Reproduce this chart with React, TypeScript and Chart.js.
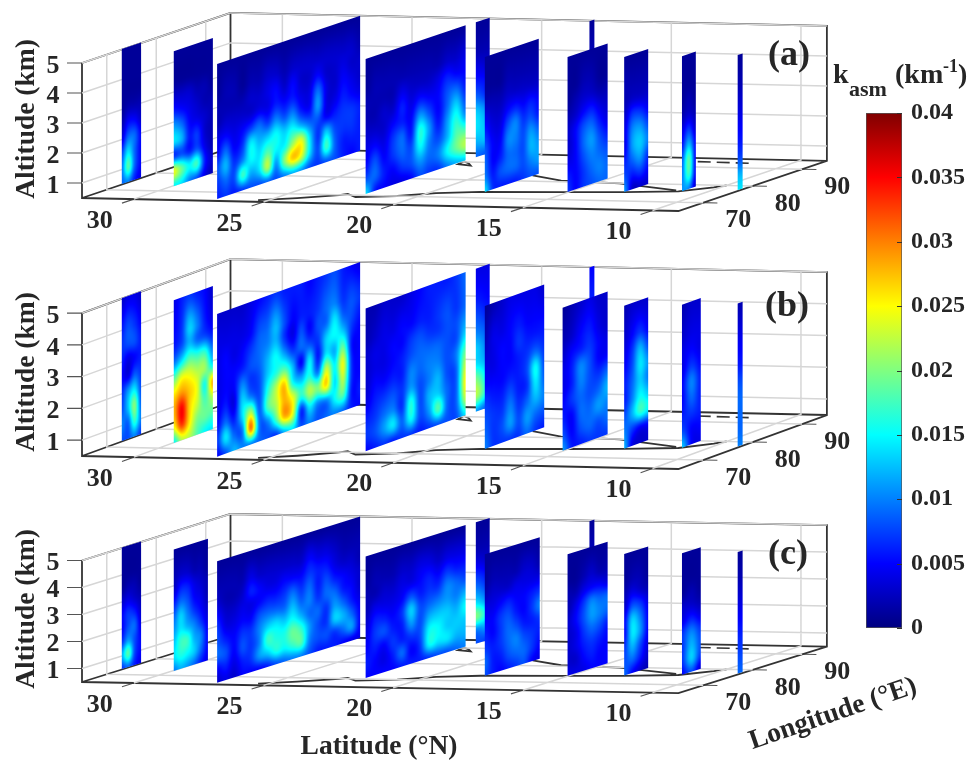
import React, { useEffect, useRef } from "react";
import { Chart, registerables } from "chart.js";

Chart.register(...registerables);

// ---------- axis values ----------
const latTicks = [30, 25, 20, 15, 10];
const lonTicks = [70, 80, 90];
const altTicks = [1, 2, 3, 4, 5];
const colorTicks = [0, 0.005, 0.01, 0.015, 0.02, 0.025, 0.03, 0.035, 0.04];
const latRange = [32, 9];
const lonRange = [65, 95];
const altRange = [0.5, 5];

// altitude (km) of each row in the slice tables, bottom to top
const zLevels = [0.5, 1, 1.5, 2, 2.5, 3, 3.5, 4, 5];

// latitude of each slice, in drawing order (far ones first)
const sliceLats = [32.05, 29.95, 27, 22.15, 22.1, 18.1, 18.05, 15.05, 13, 11, 9.1];
const lonStartsA = [73.3, 72.8, 66.1, 70.7, 92.7, 94.7, 73.3, 74.3, 75, 76.2, 77.5];
const lonEndsA = [77.2, 80.7, 95, 90.9, 95.5, 95.7, 84.2, 82.4, 79.85, 79, 78.5];
const lonStartsB = [73.3, 72.8, 66.1, 70.7, 92.7, 94.7, 73.3, 73.3, 75, 76.2, 77.5];
const lonEndsB = [77.2, 80.7, 95, 90.9, 95.5, 95.7, 85.3, 82.4, 79.85, 80, 78.5];
const lonStartsC = [73.3, 72.8, 66.1, 70.7, 92.7, 94.7, 73.3, 74.3, 75, 76.2, 77.5];
const lonEndsC = [77.2, 79.7, 95, 90.9, 95.5, 95.7, 84.4, 82.4, 79.85, 80, 78.5];

// k_asm x 1000 (km^-1). One row per zLevel, columns west to east.
const a32 = [[9,10,6,4],[10,18,9,5],[8,14,9,5],[4,9,9,5],[2,5,5,3],[1,2,2,2],[1,1,1,1],[1,1,1,1],[1,1,1,1]];
const a30 = [[15,14,10,8,4,2],[24,19,15,17,6,3],[7,8,6,8,4,2],[14,12,6,7,3,2],[11,9,5,4,3,2],[6,5,4,3,2,2],[3,3,3,2,2,1],[1,1,1,1,1,1],[1,1,1,1,1,1]];
const a27 = [
  [6,7,6,7,8,8,9,8,10,12,11,8,7,8,8,6,5,6],
  [7,9,8,17,12,14,22,11,20,27,24,14,8,17,9,6,6,6],
  [8,12,7,10,15,14,18,15,15,21,24,14,7,13,8,7,7,6],
  [5,9,5,7,14,12,13,15,13,15,12,9,8,5,6,7,7,6],
  [4,5,4,5,7,9,7,10,8,10,6,5,11,4,4,6,5,4],
  [2,3,3,3,3,4,4,6,5,6,4,4,9,4,3,5,4,3],
  [2,2,2,2,3,3,4,5,3,5,3,3,5,3,3,4,3,3],
  [1,2,2,1,2,2,3,3,2,3,3,3,3,3,3,3,3,2],
  [1,1,1,1,1,1,1,1,1,1,1,1,1,1,1,1,1,1],
];
const a22 = [
  [14,6,5,4,4,5,8,7,7,10,12,13],[8,9,6,5,7,8,11,9,10,15,19,22],[5,8,5,7,9,8,15,10,8,12,18,18],
  [4,5,4,7,9,6,16,11,6,11,16,11],[3,3,3,5,6,5,11,8,5,9,13,8],[2,2,3,3,6,4,6,5,5,8,9,6],
  [2,2,2,2,4,3,3,3,4,6,5,5],[1,2,2,2,2,2,2,2,2,3,3,4],[1,1,1,1,1,1,1,1,1,1,1,1],
];
const a22e = [[9,8],[12,13],[14,12],[13,10],[9,6],[6,5],[4,3],[2,2],[1,1]];
const a18e = [[2],[2],[2],[2],[2],[2],[2],[2],[1]];
const a18 = [[14,7,6,6,6,7,8,8],[10,6,8,9,9,8,10,11],[9,5,6,9,9,8,12,11],[8,5,5,10,10,8,11,9],[6,4,4,8,10,7,8,6],[4,3,3,5,6,5,6,5],[2,2,2,3,3,3,3,3],[1,1,1,2,2,2,2,2],[1,1,1,1,1,1,1,1]];
const a15 = [[7,5,7,8,9,9],[6,5,7,9,10,9],[4,5,8,10,9,8],[3,5,9,11,8,6],[3,5,8,9,6,4],[2,3,5,6,4,3],[1,2,3,3,2,2],[1,1,2,2,1,1],[1,1,1,1,1,1]];
const a13 = [[11,3,3,3],[8,6,7,5],[6,9,11,7],[4,11,13,10],[4,10,11,8],[3,7,7,5],[2,3,3,3],[2,2,2,2],[1,1,1,1]];
const a11 = [[11,10,3],[10,17,5],[9,18,5],[6,12,5],[4,7,3],[2,3,2],[1,2,1],[1,1,1],[1,1,1]];
const a9 = [[14],[12],[8],[6],[5],[4],[3],[2],[1]];

const b32 = [[8,8,10,7],[10,9,17,10],[8,13,20,9],[7,11,14,8],[5,4,8,7],[6,4,5,6],[7,8,8,6],[6,8,7,5],[3,4,4,3]];
const b30 = [[15,22,22,18,15,14],[25,33,26,20,19,18],[28,35,27,23,18,22],[26,29,27,24,16,28],[19,24,24,22,21,15],[10,14,18,17,17,10],[6,8,12,9,8,6],[5,7,13,10,6,4],[4,6,7,6,5,3]];
const b27 = [
  [5,8,12,10,10,9,8,7,12,14,8,10,8,9,10,9,6,5],
  [7,14,9,10,30,10,10,18,28,24,7,14,10,10,15,18,6,6],
  [5,9,6,14,22,9,18,22,28,24,17,22,20,26,14,22,7,5],
  [4,6,4,13,10,8,16,22,27,15,12,16,10,23,15,24,7,5],
  [4,5,5,10,7,8,13,16,18,12,5,14,6,14,12,19,6,5],
  [4,5,5,6,8,9,12,15,11,7,9,8,7,13,15,13,7,5],
  [4,5,4,5,7,9,10,12,7,4,8,5,8,9,14,9,8,6],
  [4,4,4,4,5,8,9,12,8,5,6,6,7,9,10,7,8,7],
  [3,3,3,3,4,5,6,7,6,6,6,5,6,7,8,6,5,4],
];
const b22 = [
  [5,6,7,6,7,7,6,7,8,8,8,14],[7,8,11,14,9,15,8,11,18,9,9,22],[6,7,9,10,7,16,8,12,13,9,9,25],
  [4,6,7,8,7,11,8,10,12,8,9,23],[3,5,5,6,6,10,9,10,10,8,10,19],[3,4,4,5,6,8,9,9,9,8,8,14],
  [3,4,4,5,5,7,8,7,7,8,8,11],[2,3,4,4,5,5,6,6,7,8,7,9],[2,2,3,3,3,4,5,6,6,6,7,9],
];
const b22e = [[11,8],[22,14],[20,13],[14,11],[13,9],[10,8],[8,6],[6,5],[4,4]];
const b18e = [[5],[5],[5],[5],[5],[5],[5],[6],[5]];
const b18 = [[10,7,7,7,7,9,7,6],[9,7,8,11,8,11,9,8],[8,7,7,10,7,9,12,10],[7,6,6,8,6,7,14,9],[5,5,5,6,6,8,15,8],[4,4,5,5,6,7,9,7],[3,4,5,5,7,6,6,6],[2,4,4,5,6,5,5,5],[1,2,3,4,4,4,4,3]];
const b15 = [[11,6,6,7,7,7],[8,5,8,9,8,9],[6,5,9,9,11,10],[5,7,9,8,9,12],[4,6,10,8,7,9],[4,6,10,8,5,5],[3,5,6,7,5,4],[2,3,5,6,4,3],[1,2,3,4,3,3]];
const b13 = [[12,4,3,3],[10,7,5,5],[8,12,17,15],[6,10,15,13],[6,9,13,10],[5,8,14,11],[4,7,12,8],[3,5,7,5],[2,3,3,3]];
const b11 = [[13,5,4],[8,5,5],[6,7,6],[5,9,6],[5,10,6],[4,7,5],[4,5,4],[3,4,4],[2,3,3]];
const b9 = [[10],[9],[9],[9],[8],[6],[5],[4],[2]];

const c32 = [[7,9,6,4],[12,18,8,5],[7,11,8,5],[5,8,9,4],[5,7,6,3],[3,4,3,2],[1,2,2,1],[1,1,1,1],[1,1,1,1]];
const c30 = [[10,12,11,9,6,4],[14,16,15,13,9,5],[13,17,17,12,10,5],[11,14,12,10,7,4],[9,13,10,7,5,3],[6,9,8,5,4,2],[3,6,6,4,3,2],[2,3,3,2,2,1],[1,1,1,1,1,1]];
const c27 = [
  [3,4,3,5,5,5,6,8,9,10,10,8,6,6,6,5,4,4],
  [5,6,4,6,7,11,13,16,15,17,18,10,8,8,7,9,11,5],
  [9,8,5,8,7,10,17,16,16,19,17,11,8,7,13,12,9,5],
  [8,6,5,7,7,10,13,14,13,15,12,9,9,7,11,9,6,4],
  [7,4,4,5,5,8,9,9,9,12,9,10,7,9,9,6,5,3],
  [5,3,3,4,4,5,6,6,7,9,7,9,6,8,6,5,4,3],
  [3,2,2,3,6,5,4,4,5,5,5,7,6,6,4,3,3,2],
  [2,2,2,2,4,3,3,3,3,3,3,5,4,4,3,2,2,2],
  [1,1,1,1,1,1,1,1,1,1,1,1,1,1,1,1,1,1],
];
const c22 = [
  [5,5,5,5,6,6,6,7,8,8,9,10],[6,5,4,6,9,5,7,15,14,14,12,12],[5,6,5,7,6,7,8,15,15,13,13,13],
  [4,7,8,6,6,11,8,12,13,13,12,15],[3,6,6,5,7,13,8,9,10,11,10,12],[2,4,4,4,5,8,6,7,7,10,9,8],
  [2,2,3,3,4,4,5,6,5,7,6,6],[1,2,2,2,3,3,4,4,3,4,4,4],[1,1,1,1,1,1,1,1,1,1,1,1],
];
const c22e = [[8,7],[10,12],[20,14],[14,10],[10,7],[7,5],[4,3],[2,2],[1,1]];
const c18e = [[2],[2],[2],[2],[2],[2],[2],[2],[1]];
const c18 = [[8,6,5,6,7,8,5,4],[9,6,6,8,9,9,7,5],[7,6,7,9,10,8,7,6],[6,5,7,9,8,6,6,7],[5,5,7,8,6,5,7,10],[4,4,5,6,5,5,6,7],[2,3,3,3,4,4,4,4],[1,2,2,2,2,3,3,2],[1,1,1,1,1,1,1,1]];
const c15 = [[4,4,4,5,5,5],[3,3,5,6,5,5],[3,4,6,7,6,5],[3,4,7,9,8,6],[3,5,8,11,10,9],[2,4,7,10,9,9],[2,2,4,5,5,4],[1,1,2,3,2,2],[1,1,1,1,1,1]];
const c13 = [[9,5,3,2],[8,9,6,3],[7,12,8,4],[5,14,11,5],[5,13,10,5],[3,8,7,4],[2,4,3,2],[1,2,2,1],[1,1,1,1]];
const c11 = [[5,8,3],[7,13,7],[7,12,8],[7,10,7],[4,6,4],[3,3,2],[1,2,1],[1,1,1],[1,1,1]];
const c9 = [[9],[8],[7],[6],[5],[4],[3],[2],[1]];

// coastline on the floor, [latitude, longitude]
const westCoast = [[25.4,66],[24.2,67.6],[23,69.8],[22.8,70.5],[22.2,68.9],[20.8,70],[19.7,72.1],[18.2,73.3],[15.1,74.2],[13,74.9],[11.1,76],[10.25,78.7],[10,80]];
const eastCoast = [[18.1,83.2],[16.5,80.6],[14.1,79.8],[11.3,76.6]];
const deltaCoast = [[22.1,90.3],[21.7,89.2],[21.4,88],[22,88.6],[22.1,90.3]];
const islandCoast = [[13.6,93],[11.4,92.7]];

// ---------- panel layout ----------
const panels = [
  { name: "(a)", ox: 82, oy: 198, zs: 30, latDy: 0.565, lonDy: -1.67, nameX: 789, nameY: 56, titleY: 119,
    starts: lonStartsA, ends: lonEndsA, tables: [a32, a30, a27, a22, a22e, a18e, a18, a15, a13, a11, a9] },
  { name: "(b)", ox: 82, oy: 456, zs: 31.75, latDy: 0.565, lonDy: -1.8, nameX: 787, nameY: 307, titleY: 372,
    starts: lonStartsB, ends: lonEndsB, tables: [b32, b30, b27, b22, b22e, b18e, b18, b15, b13, b11, b9] },
  { name: "(c)", ox: 82, oy: 682, zs: 27, latDy: 0.48, lonDy: -1.55, nameX: 788, nameY: 555, titleY: 609,
    starts: lonStartsC, ends: lonEndsC, tables: [c32, c30, c27, c22, c22e, c18e, c18, c15, c13, c11, c9] },
];
const LAT_DX = 25.93;
const LON_DX = 4.95;
const SERIF = '"Liberation Serif", serif';
const INK = "#262626";

type P = (typeof panels)[number];
const project = (p: P, lat: number, lon: number, z: number) => ({
  x: p.ox + (latRange[0] - lat) * LAT_DX + (lon - lonRange[0]) * LON_DX,
  y: p.oy + (latRange[0] - lat) * p.latDy + (lon - lonRange[0]) * p.lonDy - (z - altRange[0]) * p.zs,
});

const GAP = { x: null as any, y: null as any };

function gridPoints(p: P) {
  const pts: any[] = [];
  const [la0, la1] = latRange, [lo0, lo1] = lonRange, [z0, z1] = altRange;
  for (const lat of latTicks) {
    pts.push(project(p, lat, lo0, z0), project(p, lat, lo1, z0), project(p, lat, lo1, z1), GAP);
  }
  for (const lon of lonTicks) {
    pts.push(project(p, la1, lon, z0), project(p, la0, lon, z0), project(p, la0, lon, z1), GAP);
  }
  for (const z of altTicks) {
    pts.push(project(p, la0, lo0, z), project(p, la0, lo1, z), project(p, la1, lo1, z), GAP);
  }
  return pts;
}

function boxPoints(p: P) {
  const [la0, la1] = latRange, [lo0, lo1] = lonRange, [z0, z1] = altRange;
  return [
    project(p, la0, lo0, z1), project(p, la0, lo0, z0), project(p, la1, lo0, z0), project(p, la1, lo1, z0),
    project(p, la1, lo1, z1), project(p, la0, lo1, z1), project(p, la0, lo0, z1), GAP,
    project(p, la0, lo1, z1), project(p, la0, lo1, z0), project(p, la1, lo1, z0), GAP,
    project(p, la0, lo1, z0), project(p, la0, lo0, z0), GAP,
  ];
}

function tickPoints(p: P) {
  const pts: any[] = [];
  const [, la1] = latRange, [lo0] = lonRange, [z0] = altRange;
  for (const lat of latTicks) pts.push(project(p, lat, lo0, z0), project(p, lat, lo0 - 2.4, z0), GAP);
  for (const lon of lonTicks) pts.push(project(p, la1, lon, z0), project(p, la1 - 0.55, lon, z0), GAP);
  for (const z of altTicks) {
    const a = project(p, latRange[0], lo0, z);
    pts.push(a, { x: a.x - 15, y: a.y }, GAP);
  }
  return pts;
}

function coastPoints(p: P) {
  const pts: any[] = [];
  for (const line of [westCoast, eastCoast, deltaCoast]) {
    for (const [lat, lon] of line) pts.push(project(p, lat, lon, altRange[0]));
    pts.push(GAP);
  }
  return pts;
}
const islandPoints = (p: P) => islandCoast.map(([lat, lon]) => project(p, lat, lon, altRange[0]));

// ---------- colour ----------
const clamp01 = (v: number) => Math.max(0, Math.min(1, v));
function jet(k: number): [number, number, number] {
  const t = k / 0.04;
  return [
    Math.round(255 * clamp01(Math.min(4 * t - 1.5, -4 * t + 4.5))),
    Math.round(255 * clamp01(Math.min(4 * t - 0.5, -4 * t + 3.5))),
    Math.round(255 * clamp01(Math.min(4 * t + 0.5, -4 * t + 2.5))),
  ];
}

// ---------- slice painting ----------
function cubicW(t: number) {
  const t2 = t * t, t3 = t2 * t;
  return [
    0.5 * (-t3 + 2 * t2 - t),
    0.5 * (3 * t3 - 5 * t2 + 2),
    0.5 * (-3 * t3 + 4 * t2 + t),
    0.5 * (t3 - t2),
  ];
}
function rowIndex(z: number) {
  for (let i = 0; i < zLevels.length - 1; i++) {
    if (z <= zLevels[i + 1]) return i + (z - zLevels[i]) / (zLevels[i + 1] - zLevels[i]);
  }
  return zLevels.length - 1;
}
function sample(t: number[][], rf: number, cf: number) {
  const nr = t.length, nc = t[0].length;
  const r0 = Math.floor(rf), c0 = Math.floor(cf);
  const wr = cubicW(rf - r0), wc = cubicW(cf - c0);
  let s = 0;
  for (let i = 0; i < 4; i++) {
    const r = t[Math.max(0, Math.min(nr - 1, r0 + i - 1))];
    for (let j = 0; j < 4; j++) {
      s += wr[i] * wc[j] * r[Math.max(0, Math.min(nc - 1, c0 + j - 1))];
    }
  }
  return Math.max(0, s) / 1000;
}
function sliceImage(table: number[][], w: number, h: number) {
  const cv = document.createElement("canvas");
  cv.width = w;
  cv.height = h;
  const c = cv.getContext("2d")!;
  const img = c.createImageData(w, h);
  const nc = table[0].length;
  for (let y = 0; y < h; y++) {
    const z = altRange[0] + ((altRange[1] - altRange[0]) * y) / Math.max(1, h - 1);
    const rf = rowIndex(z);
    for (let x = 0; x < w; x++) {
      const cf = ((nc - 1) * x) / Math.max(1, w - 1);
      const [r, g, b] = jet(sample(table, rf, cf));
      const o = (y * w + x) * 4;
      img.data[o] = r;
      img.data[o + 1] = g;
      img.data[o + 2] = b;
      img.data[o + 3] = 255;
    }
  }
  c.putImageData(img, 0, 0);
  return cv;
}

const slicePlugin = {
  id: "slices",
  afterDatasetsDraw(chart: any) {
    const { ctx, scales } = chart;
    const px = (q: { x: number; y: number }) => ({
      x: scales.x.getPixelForValue(q.x),
      y: scales.y.getPixelForValue(q.y),
    });
    for (const p of panels) {
      sliceLats.forEach((lat, i) => {
        const p0 = px(project(p, lat, p.starts[i], altRange[0]));
        const p1 = px(project(p, lat, p.ends[i], altRange[0]));
        const p2 = px(project(p, lat, p.starts[i], altRange[1]));
        const w = Math.max(4, Math.ceil(Math.abs(p1.x - p0.x) * 2));
        const h = Math.ceil(Math.abs(p2.y - p0.y) * 2);
        const img = sliceImage(p.tables[i], w, h);
        ctx.save();
        ctx.imageSmoothingEnabled = true;
        ctx.transform((p1.x - p0.x) / w, (p1.y - p0.y) / w, (p2.x - p0.x) / h, (p2.y - p0.y) / h, p0.x, p0.y);
        ctx.drawImage(img, 0, 0);
        ctx.restore();
      });
    }
  },
};

const textPlugin = {
  id: "texts",
  afterDraw(chart: any) {
    const { ctx, scales } = chart;
    const X = (v: number) => scales.x.getPixelForValue(v);
    const Y = (v: number) => scales.y.getPixelForValue(v);
    const put = (s: string, x: number, y: number, size: number, rot = 0, align: CanvasTextAlign = "center", base: CanvasTextBaseline = "middle") => {
      ctx.save();
      ctx.font = `bold ${size}px ${SERIF}`;
      ctx.fillStyle = INK;
      ctx.textAlign = align;
      ctx.textBaseline = base;
      ctx.translate(X(x), Y(y));
      if (rot) ctx.rotate((rot * Math.PI) / 180);
      ctx.fillText(s, 0, 0);
      ctx.restore();
    };
    for (const p of panels) {
      for (const lat of latTicks) {
        const q = project(p, lat, lonRange[0], altRange[0]);
        put(String(lat), q.x - 34, q.y + 22, 26);
      }
      for (const lon of lonTicks) {
        const q = project(p, latRange[1], lon, altRange[0]);
        put(String(lon), q.x + 35, q.y + 18, 26);
      }
      for (const z of altTicks) {
        const q = project(p, latRange[0], lonRange[0], z);
        put(String(z), 53, q.y + 3, 26);
      }
      put("Altitude (km)", 27, p.titleY, 27.5, -90);
      put(p.name, p.nameX, p.nameY, 36);
    }
    put("Latitude (°N)", 379, 747, 27.5);
    put("Longitude (°E)", 833, 714, 27.5, -19);
    // colour bar title
    put("k", 833, 83, 28, 0, "left", "alphabetic");
    put("asm", 849, 96, 22, 0, "left", "alphabetic");
    put("(km", 895, 83, 28, 0, "left", "alphabetic");
    put("-1", 943, 72, 18, 0, "left", "alphabetic");
    put(")", 958, 83, 28, 0, "left", "alphabetic");
  },
};

const barTicksPlugin = {
  id: "barTicks",
  afterDatasetsDraw(chart: any) {
    const { ctx, scales, chartArea } = chart;
    ctx.save();
    ctx.strokeStyle = "#333";
    ctx.lineWidth = 1;
    for (const v of colorTicks) {
      const y = Math.round(scales.y.getPixelForValue(v)) + 0.5;
      ctx.beginPath();
      ctx.moveTo(chartArea.right - 5, y);
      ctx.lineTo(chartArea.right, y);
      ctx.stroke();
    }
    ctx.restore();
  },
};

export default function App() {
  const mainRef = useRef<HTMLCanvasElement>(null);
  const barRef = useRef<HTMLCanvasElement>(null);

  useEffect(() => {
    const lineSet = (data: any[], color: string, width: number, extra: any = {}) => ({
      data,
      showLine: true,
      borderColor: color,
      borderWidth: width,
      pointRadius: 0,
      spanGaps: false,
      tension: 0,
      ...extra,
    });
    const datasets: any[] = [];
    for (const p of panels) datasets.push(lineSet(gridPoints(p), "#d6d6d6", 1.5));
    for (const p of panels) {
      datasets.push(lineSet(coastPoints(p), "#333333", 1.8));
      datasets.push(lineSet(islandPoints(p), "#333333", 1.6, { borderDash: [13, 6] }));
      datasets.push(lineSet(boxPoints(p), "#333333", 1.8));
      datasets.push(lineSet(tickPoints(p), "#555555", 1.1));
    }
    const main = new Chart(mainRef.current!, {
      type: "scatter",
      data: { datasets },
      options: {
        animation: false,
        responsive: false,
        layout: { padding: 0 },
        plugins: { legend: { display: false }, tooltip: { enabled: false } },
        scales: {
          x: { type: "linear", min: 0, max: 972, display: false },
          y: { type: "linear", min: 0, max: 763, reverse: true, display: false },
        },
      },
      plugins: [slicePlugin, textPlugin],
    } as any);

    const bar = new Chart(barRef.current!, {
      type: "bar",
      data: {
        labels: ["k"],
        datasets: [
          {
            data: [colorTicks[colorTicks.length - 1]],
            barPercentage: 1,
            categoryPercentage: 1,
            borderWidth: 1,
            borderColor: "#555555",
            borderSkipped: false,
            backgroundColor: (c: any) => {
              const { chart } = c;
              const area = chart.chartArea;
              if (!area) return "#000080";
              const g = chart.ctx.createLinearGradient(0, area.bottom, 0, area.top);
              for (let i = 0; i <= 32; i++) {
                const [r, gg, b] = jet((0.04 * i) / 32);
                g.addColorStop(i / 32, `rgb(${r},${gg},${b})`);
              }
              return g;
            },
          },
        ],
      },
      options: {
        animation: false,
        responsive: false,
        layout: { padding: { left: 66, top: 23, bottom: 22, right: 0 } },
        plugins: { legend: { display: false }, tooltip: { enabled: false } },
        scales: {
          x: { display: false },
          y: {
            position: "right",
            min: 0,
            max: 0.04,
            afterFit: (s: any) => {
              s.width = 70;
            },
            border: { display: false },
            grid: { display: false },
            ticks: {
              stepSize: 0.005,
              padding: 1,
              color: INK,
              font: { family: SERIF, size: 24, weight: "bold" },
              callback: (v: any) => String(+Number(v).toFixed(3)),
            },
          },
        },
      },
      plugins: [barTicksPlugin],
    } as any);

    return () => {
      main.destroy();
      bar.destroy();
    };
  }, []);

  return (
    <div style={{ position: "absolute", left: 0, top: 0, width: 972, height: 763, background: "#fff", overflow: "hidden" }}>
      <canvas ref={mainRef} width={972} height={763} style={{ position: "absolute", left: 0, top: 0, width: 972, height: 763 }} />
      <canvas ref={barRef} width={172} height={560} style={{ position: "absolute", left: 800, top: 90, width: 172, height: 560 }} />
    </div>
  );
}
